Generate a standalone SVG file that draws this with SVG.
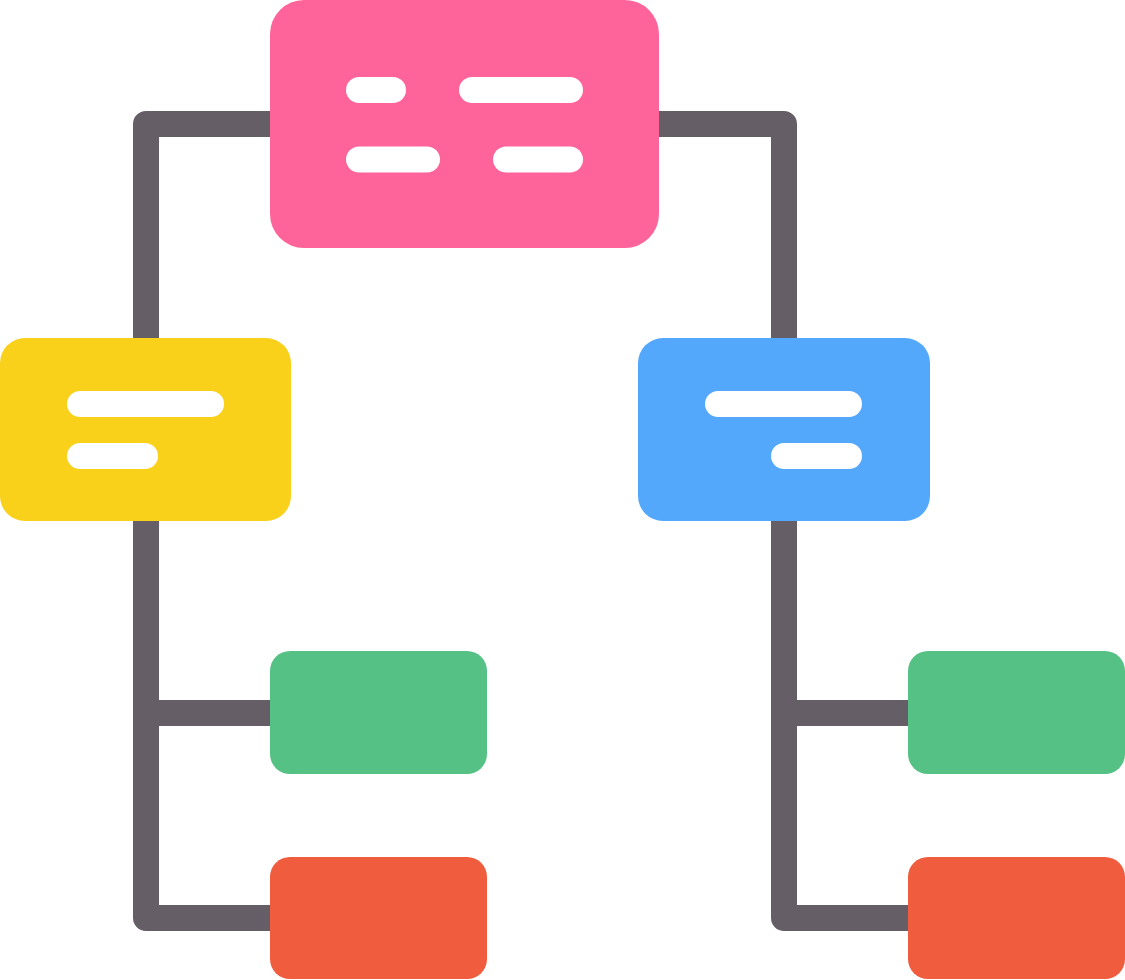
<svg xmlns="http://www.w3.org/2000/svg" width="1125" height="980" viewBox="0 0 1125 980">
<style>
.conn{fill:none;stroke:#665e66;stroke-width:26;stroke-linejoin:round;stroke-linecap:butt}
.bar{stroke:#ffffff;stroke-width:26;stroke-linecap:round}
</style>
<rect width="1125" height="980" fill="#ffffff"/>
<g id="connectors">
<path class="conn" d="M275 124 H146 V345"/>
<path class="conn" d="M654 124 H784 V345"/>
<path class="conn" d="M146 515 V918 H276"/>
<path class="conn" d="M146 713 H276"/>
<path class="conn" d="M784 515 V918 H914"/>
<path class="conn" d="M784 713 H914"/>
</g>
<g id="root">
<rect x="270" y="0" width="389" height="248" rx="34" fill="#fe6399"/>
<line class="bar" x1="359" y1="90" x2="393" y2="90"/>
<line class="bar" x1="472" y1="90" x2="570" y2="90"/>
<line class="bar" x1="359" y1="159.5" x2="427" y2="159.5"/>
<line class="bar" x1="506" y1="159.5" x2="570" y2="159.5"/>
</g>
<g id="left-mid">
<rect x="0" y="338" width="291" height="183" rx="25" fill="#f9d01a"/>
<line class="bar" x1="80" y1="404" x2="211" y2="404"/>
<line class="bar" x1="80" y1="456" x2="145" y2="456"/>
</g>
<g id="right-mid">
<rect x="638" y="338" width="292" height="183" rx="25" fill="#53a8fb"/>
<line class="bar" x1="718" y1="404" x2="849" y2="404"/>
<line class="bar" x1="784" y1="456" x2="849" y2="456"/>
</g>
<g id="left-green">
<rect x="270" y="651" width="217" height="123" rx="20" fill="#55c185"/>
</g>
<g id="left-red">
<rect x="270" y="857" width="217" height="122" rx="20" fill="#f05c3e"/>
</g>
<g id="right-green">
<rect x="908" y="651" width="217" height="123" rx="20" fill="#55c185"/>
</g>
<g id="right-red">
<rect x="908" y="857" width="217" height="122" rx="20" fill="#f05c3e"/>
</g>
</svg>
